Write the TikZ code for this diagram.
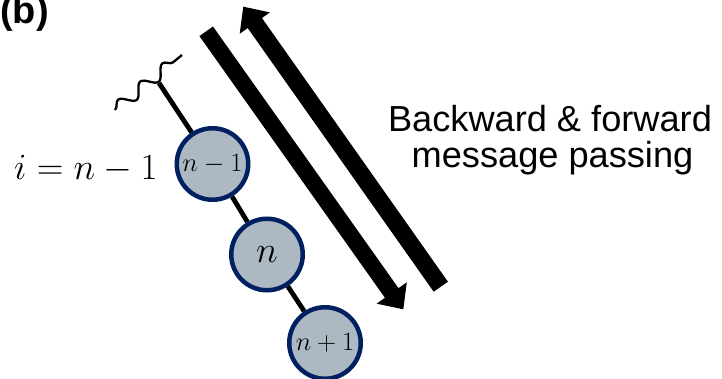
\RequirePackage{fix-cm}
\documentclass[tikz,border=0pt]{standalone}
\usepackage[no-math]{fontspec}
\newfontfamily\labelfont{Liberation Sans}
\usetikzlibrary{calc,decorations.pathmorphing,backgrounds}
\definecolor{sitefill}{RGB}{173,185,194}
\definecolor{siteedge}{RGB}{0,32,96}

\begin{document}
\begin{tikzpicture}[x=1pt,y=-1pt,
  site/.style={circle, draw=siteedge, fill=sitefill, line width=4.5pt,
    minimum size=71.5pt, inner sep=0pt},
  bond/.style={line width=4.8pt, draw=black},
  wave/.style={line width=2.3pt, decorate,
    decoration={snake, segment length=28.6pt, amplitude=6pt}},
  caption/.style={font=\labelfont\fontsize{36.2}{36}\selectfont,
    inner sep=0pt, anchor=base},
]
\useasboundingbox (0,0) rectangle (722,379);

% panel tag
\node[anchor=base west, inner sep=0pt,
  font=\labelfont\bfseries\fontsize{38}{38}\selectfont] (panel) at (0,23.5) {(b)};

% chain of sites
\node[site] (s1) at (212.5,164) {\fontsize{26.5}{26}\selectfont$n-1$};
\node[site] (s2) at (267,254.5) {\fontsize{37}{37}\selectfont$n$};
\node[site] (s3) at (325,343) {\fontsize{26.5}{26}\selectfont$n+1$};

% index label
\node[anchor=base west, inner sep=0pt,
  font=\fontsize{37}{37}\selectfont] (idx) at (14,179.3) {$i = n - 1$};

% open end of the chain
\coordinate (top) at (159,83);
\coordinate (w1) at (115,110);
\coordinate (w2) at (182,55);
\draw[wave] (w1) -- (w2);

\begin{scope}[on background layer]
  \draw[bond] (top) -- (s1);
  \draw[bond] (s1) -- (s2);
  \draw[bond] (s2) -- (s3);
\end{scope}

% message passing arrows
\coordinate (a1tail) at (206.2,31.3);
\coordinate (a1tip) at (403.3,309.3);
\coordinate (a1base) at ($(a1tip)!20pt!(a1tail)$);
\fill ($(a1tail)!8.3pt!90:(a1tip)$) -- ($(a1base)!8.3pt!90:(a1tip)$)
  -- ($(a1base)!18.5pt!90:(a1tip)$) -- (a1tip)
  -- ($(a1base)!18.5pt!-90:(a1tip)$) -- ($(a1base)!8.3pt!-90:(a1tip)$)
  -- ($(a1tail)!8.3pt!-90:(a1tip)$) -- cycle;

\coordinate (a2tail) at (440.8,286.7);
\coordinate (a2tip) at (243.3,6.7);
\coordinate (a2base) at ($(a2tip)!20pt!(a2tail)$);
\fill ($(a2tail)!8.7pt!90:(a2tip)$) -- ($(a2base)!8.7pt!90:(a2tip)$)
  -- ($(a2base)!18.5pt!90:(a2tip)$) -- (a2tip)
  -- ($(a2base)!18.5pt!-90:(a2tip)$) -- ($(a2base)!8.7pt!-90:(a2tip)$)
  -- ($(a2tail)!8.7pt!-90:(a2tip)$) -- cycle;

% caption
\node[caption] (cap1) at (550,131.5) {Backward \& forward};
\node[caption] (cap2) at (552.5,167.5) {message passing};
\end{tikzpicture}
\end{document}
